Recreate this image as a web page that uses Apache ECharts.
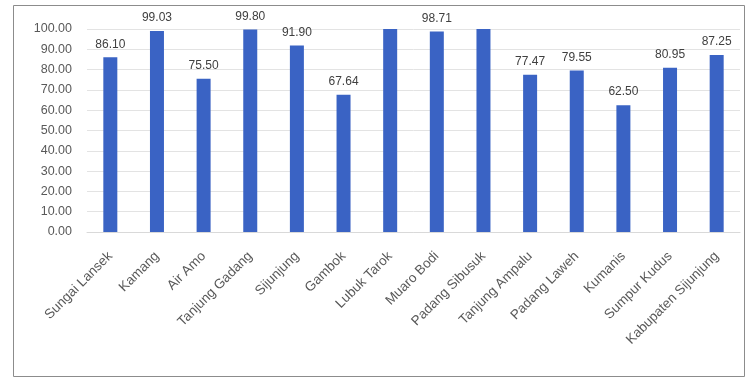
<!DOCTYPE html>
<html>
<head>
<meta charset="utf-8">
<script src="https://cdn.jsdelivr.net/npm/echarts@6/dist/echarts.min.js"></script>
<style>
  html, body { margin: 0; padding: 0; background: #ffffff; }
  #chart { width: 750px; height: 378px; }
</style>
</head>
<body>
<div id="chart"></div>
<script>
// Puskesmas names and their coverage percentages
const categories = [
  'Sungai Lansek', 'Kamang', 'Air Amo', 'Tanjung Gadang', 'Sijunjung',
  'Gambok', 'Lubuk Tarok', 'Muaro Bodi', 'Padang Sibusuk', 'Tanjung Ampalu',
  'Padang Laweh', 'Kumanis', 'Sumpur Kudus', 'Kabupaten Sijunjung'
];
const values = [
  86.10, 99.03, 75.50, 99.80, 91.90,
  67.64, 100.00, 98.71, 100.00, 77.47,
  79.55, 62.50, 80.95, 87.25
];
// bars whose value label is shown
const showLabel = [
  true, true, true, true, true,
  true, false, true, false, true,
  true, true, true, true
];
const yTicks = { min: 0, max: 100, interval: 10 };

const chart = echarts.init(document.getElementById('chart'), null, { renderer: 'canvas' });

chart.setOption({
  animation: false,
  backgroundColor: '#ffffff',
  textStyle: { fontFamily: 'Liberation Sans, Arial, sans-serif' },
  graphic: [{
    type: 'rect',
    shape: { x: 13.5, y: 5.5, width: 731, height: 371 },
    style: { fill: 'none', stroke: '#8c8c8c', lineWidth: 1 },
    silent: true
  }],
  grid: { left: 87, right: 10, top: 29, bottom: 146 },
  xAxis: {
    type: 'category',
    data: categories,
    axisLine: { lineStyle: { color: '#d9d9d9' } },
    axisTick: { show: false },
    axisLabel: {
      rotate: 45,
      interval: 0,
      margin: 22,
      fontSize: 13.5,
      color: '#595959'
    }
  },
  yAxis: {
    type: 'value',
    min: yTicks.min,
    max: yTicks.max,
    interval: yTicks.interval,
    axisLine: { show: false },
    axisTick: { show: false },
    splitLine: { lineStyle: { color: '#e3e3e3' } },
    axisLabel: {
      margin: 15,
      fontSize: 12.5,
      color: '#595959',
      formatter: v => v.toFixed(2)
    }
  },
  series: [{
    type: 'bar',
    data: values.map((v, i) => ({
      value: v,
      label: { show: showLabel[i] }
    })),
    barWidth: 14,
    itemStyle: { color: '#3a63c4' },
    label: {
      position: 'top',
      distance: 7,
      fontSize: 12,
      color: '#404040',
      formatter: p => p.value.toFixed(2)
    }
  }]
});
</script>
</body>
</html>
